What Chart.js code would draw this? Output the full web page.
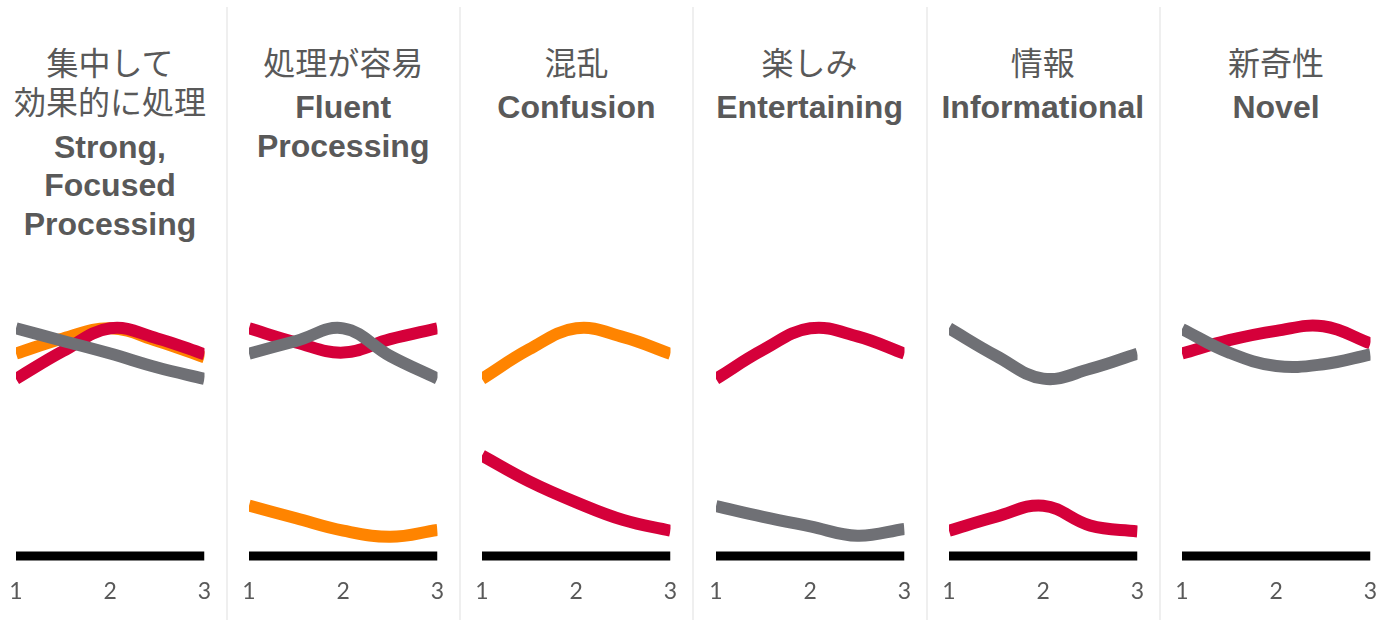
<!DOCTYPE html>
<html>
<head>
<meta charset="utf-8">
<script src="https://cdn.jsdelivr.net/npm/chart.js@4.4.1/dist/chart.umd.min.js"></script>
<style>
  body { margin: 0; background: #fff; }
  #wrap { position: relative; width: 1381px; height: 620px; overflow: hidden; }
  .sep { position: absolute; top: 7px; width: 2px; height: 613px; background: #efefef; }
  .ttl { position: absolute; top: 41.75px; width: 232px; text-align: center; color: #595959; }
  .ja { font-family: "Noto Sans CJK JP", sans-serif; font-size: 32px; line-height: 39.5px; }
  .en { font-family: "Liberation Sans", Arial, sans-serif; font-weight: bold; font-size: 32px; line-height: 38.5px; margin-top: 7px; }
  canvas { position: absolute; top: 300px; }
</style>
</head>
<body>
<div id="wrap"></div>
<script>
// x positions; only 1, 2, 3 are labelled
const xVals = [1, 1.5, 2, 2.5, 3];
const xTicks = [1, 2, 3];
const titlesJa = [['集中して', '効果的に処理'], ['処理が容易'], ['混乱'], ['楽しみ'], ['情報'], ['新奇性']];
const titlesEn = [['Strong,', 'Focused', 'Processing'], ['Fluent', 'Processing'], ['Confusion'], ['Entertaining'], ['Informational'], ['Novel']];

// series values per panel (null = line not shown in that panel)
const orangeVals = [
  [8, 8.6, 9, 8.5, 7.85],
  [1.99, 1.49, 1.0, 0.76, 1.03],
  [7, 8.17, 9, 8.65, 7.99],
  null, null, null
];
const redVals = [
  [7, 8.1, 9, 8.6, 7.97],
  [9, 8.44, 8.04, 8.57, 9],
  [3.97, 2.95, 2.12, 1.42, 1.0],
  [7, 8.15, 9, 8.68, 8],
  [1, 1.55, 1.99, 1.2, 0.97],
  [8, 8.53, 8.9, 9.08, 8.4]
];
const grayVals = [
  [9, 8.5, 8, 7.45, 7],
  [8, 8.5, 9, 7.9, 7.01],
  null,
  [1.97, 1.55, 1.17, 0.8, 1.07],
  [9, 7.91, 7.01, 7.4, 8],
  [8.97, 8.04, 7.51, 7.58, 7.97]
];
const baseVals = [0, 0, 0, 0, 0];

const ORANGE = '#FF8400', RED = '#D5003A', GRAY = '#6F7075';
const step = 233.2, pad = 12, plotW = 188.5;
const wrap = document.getElementById('wrap');

function pts(vals) {
  return vals.map((v, i) => ({ x: xVals[i], y: v }));
}

for (let p = 0; p < 6; p++) {
  // separators between panels
  if (p > 0) {
    let s = document.createElement('div');
    s.className = 'sep';
    s.style.left = (226 + step * (p - 1)) + 'px';
    wrap.appendChild(s);
  }

  // titles
  let t = document.createElement('div');
  t.className = 'ttl';
  t.style.left = (110 + step * p - 116) + 'px';
  t.innerHTML = '<div class="ja">' + titlesJa[p].join('<br>') + '</div>' +
                '<div class="en">' + titlesEn[p].join('<br>') + '</div>';
  wrap.appendChild(t);

  let cv = document.createElement('canvas');
  cv.width = Math.ceil(plotW + 2 * pad);
  cv.height = 320;
  cv.style.left = (16 + step * p - pad) + 'px';
  wrap.appendChild(cv);

  // first dataset is drawn on top
  let datasets = [];
  if (grayVals[p]) datasets.push({ data: pts(grayVals[p]), borderColor: GRAY });
  if (redVals[p]) datasets.push({ data: pts(redVals[p]), borderColor: RED });
  if (orangeVals[p]) datasets.push({ data: pts(orangeVals[p]), borderColor: ORANGE });
  datasets.forEach(d => { d.borderWidth = 12; d.tension = 0.4; d.pointRadius = 0; d.borderCapStyle = 'butt'; });
  datasets.push({ data: pts(baseVals), borderColor: '#000', borderWidth: 9, tension: 0, pointRadius: 0, borderCapStyle: 'butt' });

  new Chart(cv.getContext('2d'), {
    type: 'line',
    data: { datasets: datasets },
    options: {
      responsive: false,
      animation: false,
      devicePixelRatio: 1,
      layout: { padding: { top: 15.65, left: pad, right: cv.width - pad - plotW, bottom: 0 } },
      plugins: { legend: { display: false }, tooltip: { enabled: false } },
      scales: {
        x: {
          type: 'linear', min: 1, max: 3,
          grid: { display: false },
          border: { display: false },
          afterBuildTicks: s => { s.ticks = xTicks.map(v => ({ value: v })); },
          ticks: { padding: 1, color: '#595959', font: { family: 'Lato', size: 23 } },
          afterFit: s => { s.height = 51.35; s.paddingLeft = 0; s.paddingRight = 0; }
        },
        y: { display: false, min: -0.5, max: 9.5 }
      }
    }
  });
}
</script>
</body>
</html>
